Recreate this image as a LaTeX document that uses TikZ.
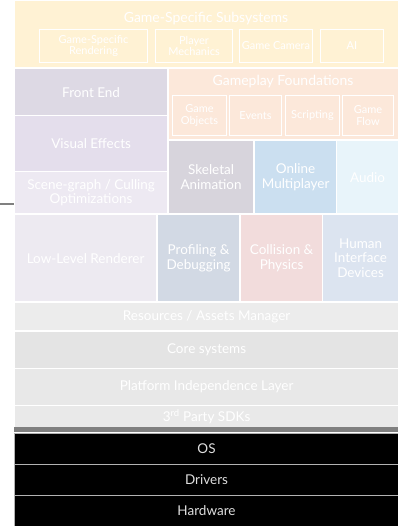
\documentclass[tikz,border=0pt]{standalone}
\usepackage{fontspec}
\setmainfont{Lato}
\usepackage{tikz}
\usetikzlibrary{positioning}
\definecolor{gamecolor}{RGB}{255, 242, 212}
\definecolor{frontcolor}{RGB}{221, 217, 228}
\definecolor{vfxcolor}{RGB}{228, 222, 236}
\definecolor{scenecolor}{RGB}{237, 233, 242}
\definecolor{playcolor}{RGB}{252, 232, 218}
\definecolor{skelcolor}{RGB}{215, 212, 220}
\definecolor{onlinecolor}{RGB}{203, 223, 240}
\definecolor{audiocolor}{RGB}{232, 244, 250}
\definecolor{lowcolor}{RGB}{237, 234, 241}
\definecolor{profcolor}{RGB}{210, 217, 228}
\definecolor{physcolor}{RGB}{242, 220, 220}
\definecolor{hidcolor}{RGB}{220, 228, 240}
\definecolor{rescolor}{RGB}{236, 236, 236}
\definecolor{corecolor}{RGB}{228, 228, 228}
\definecolor{platcolor}{RGB}{232, 232, 232}
\definecolor{sdkcolor}{RGB}{233, 233, 233}

\begin{document}
\begin{tikzpicture}[x=1pt, y=-1pt,
    block/.style={draw=white, line width=1.2pt, anchor=north west, inner sep=0pt,
      text=white, align=center, font=\fontsize{13.5}{14.5}\selectfont},
    inner/.style={draw=white, line width=1pt, anchor=north west, inner sep=0pt,
      text=white, align=center, font=\fontsize{11}{11.5}\selectfont},
    title/.style={text=white, font=\fontsize{14}{15}\selectfont},
    hwblock/.style={fill=black, draw=gray!60, line width=1pt, anchor=north west, inner sep=0pt,
      text=gray!25, font=\fontsize{13.5}{14.5}\selectfont}]
  \useasboundingbox (0,0) rectangle (397,526);

  % game specific layer
  \node[block, fill=gamecolor, minimum width=384, minimum height=67] (gss) at (14,0) {};
  \node[title] (gsst) at (206,19) {Game-Specific Subsystems};
  \node[inner, minimum width=108, minimum height=33] (gsr) at (39,29) {Game-Specific\\Rendering};
  \node[inner, minimum width=77, minimum height=33] (pm) at (155,29) {Player\\Mechanics};
  \node[inner, minimum width=73, minimum height=33] (gc) at (239,29) {Game Camera};
  \node[inner, minimum width=63, minimum height=33] (ai) at (320,29) {AI};

  % engine
  \node[block, fill=frontcolor, minimum width=153, minimum height=47] (fe) at (14,68) {Front End};
  \node[block, fill=playcolor, minimum width=230, minimum height=71] (gpf) at (168,68) {};
  \node[title] (gpft) at (283,82) {Gameplay Foundations};
  \node[inner, minimum width=54, minimum height=40] (go) at (172,95) {Game\\Objects};
  \node[inner, minimum width=52, minimum height=40] (ev) at (229,95) {Events};
  \node[inner, minimum width=54, minimum height=40] (sc) at (285,95) {Scripting};
  \node[inner, minimum width=51, minimum height=40] (gf) at (342,95) {Game\\Flow};
  \node[block, fill=vfxcolor, minimum width=153, minimum height=56] (vfx) at (14,115) {Visual Effects};
  \node[block, fill=scenecolor, minimum width=153, minimum height=42] (sg) at (14,171) {Scene-graph / Culling\\Optimizations};
  \node[block, fill=skelcolor, minimum width=85, minimum height=73] (skel) at (168,140) {Skeletal\\Animation};
  \node[block, fill=onlinecolor, minimum width=82, minimum height=73] (om) at (254,140) {Online\\Multiplayer};
  \node[block, fill=audiocolor, minimum width=62, minimum height=73] (au) at (336,140) {Audio};
  \node[block, fill=lowcolor, minimum width=142, minimum height=87] (llr) at (14,214) {Low-Level Renderer};
  \node[block, fill=profcolor, minimum width=82, minimum height=87] (pd) at (157,214) {Profiling \&\\Debugging};
  \node[block, fill=physcolor, minimum width=82, minimum height=87] (cp) at (240,214) {Collision \&\\Physics};
  \node[block, fill=hidcolor, minimum width=76, minimum height=87] (hid) at (322,214) {Human\\Interface\\Devices};
  \node[block, fill=rescolor, minimum width=384, minimum height=28] (res) at (14,302) {Resources / Assets Manager};
  \node[block, fill=corecolor, minimum width=384, minimum height=37] (core) at (14,331) {Core systems};
  \node[block, fill=platcolor, minimum width=384, minimum height=37] (pil) at (14,368) {Platform Independence Layer};
  \node[block, fill=sdkcolor, minimum width=384, minimum height=22] (sdk) at (14,405) {3\textsuperscript{rd} Party SDKs};
  \node[fill=gray, anchor=north west, inner sep=0pt, minimum width=384, minimum height=5] (bar) at (14,427) {};

  % hardware side
  \node[hwblock, minimum width=384, minimum height=31] (os) at (14,433) {OS};
  \node[hwblock, minimum width=384, minimum height=31] (drv) at (14,464) {Drivers};
  \node[hwblock, minimum width=384, minimum height=31] (hw) at (14,495) {Hardware};

  \coordinate (ln) at (0,204);
  \draw[gray, line width=1.2pt] (ln) -- (ln -| sg.west);
\end{tikzpicture}
\end{document}
